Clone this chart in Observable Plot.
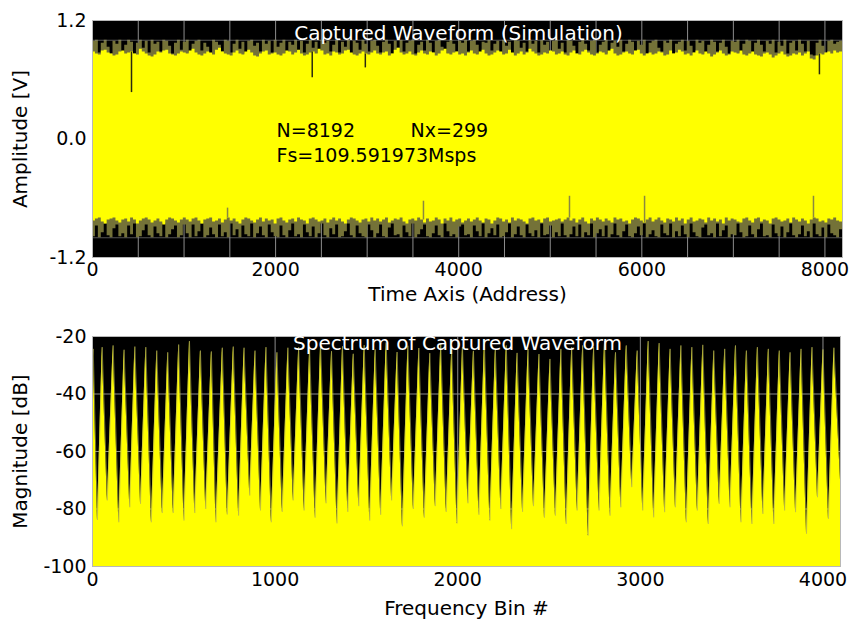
<!DOCTYPE html>
<html><head><meta charset="utf-8">
<script src="https://cdn.jsdelivr.net/npm/d3@7"></script>
<script src="https://cdn.jsdelivr.net/npm/@observablehq/plot@0.6"></script>
<style>body{margin:0;background:#fff} #chart{width:850px} svg{display:block}</style>
</head><body><div id="chart"></div><script>
// ---------- Top panel: captured waveform (envelope) ----------
const N = 8192;
const addrStep = 32;
const timeTicks = [0, 2000, 4000, 6000, 8000];
const timeGrid = [500,1000,1500,2000,2500,3000,3500,4000,4500,5000,5500,6000,6500,7000,7500,8000];
const ampTicks = [-1.2, 0, 1.2];
const clipLevels = [1.0, -1.0];

const upperInner = [
 .88,.86,.85,.89,.90,.87,.86,.84,.85,.88,.89,.86,.87,.88,.86,.85,.91,.88,.86,.84,.83,.85,.88,.87,.89,.90,.86,.85,.84,.86,.88,.87,
 .86,.89,.91,.87,.85,.84,.86,.88,.87,.85,.90,.92,.88,.86,.85,.84,.87,.89,.86,.85,.88,.90,.87,.84,.83,.86,.88,.89,.85,.86,.87,.85,
 .84,.86,.89,.88,.85,.87,.90,.86,.84,.85,.87,.88,.86,.91,.89,.85,.86,.84,.88,.87,.85,.86,.89,.90,.87,.85,.84,.86,.88,.86,.85,.87,
 .89,.86,.85,.87,.88,.84,.86,.90,.92,.87,.85,.86,.88,.85,.84,.87,.89,.86,.85,.88,.87,.84,.86,.89,.91,.86,.85,.87,.88,.85,.86,.84,
 .87,.89,.86,.85,.88,.90,.86,.84,.85,.87,.89,.88,.85,.86,.90,.87,.84,.86,.88,.85,.87,.91,.88,.86,.84,.85,.87,.86,.89,.88,.85,.86,
 .88,.85,.84,.87,.89,.86,.85,.88,.90,.87,.85,.84,.86,.88,.87,.85,.89,.91,.86,.84,.85,.87,.88,.86,.85,.89,.90,.86,.84,.86,.87,.85,
 .86,.88,.87,.84,.85,.89,.86,.87,.90,.88,.85,.86,.84,.87,.89,.86,.85,.88,.86,.83,.85,.87,.89,.86,.84,.85,.88,.87,.86,.89,.85,.84,
 .86,.88,.85,.84,.83,.86,.87,.85,.82,.84,.86,.88,.85,.83,.84,.86,.85,.87,.84,.86,.88,.81,.80,.84,.86,.85,.87,.88,.86,.89,.87,.88];
const upperOuter = [
 .99,1,.87,.97,1,.93,.86,.99,.96,1,.88,.95,1,.98,.86,.97,1,.92,.99,.87,1,.96,.98,.88,1,.99,.94,.86,.97,1,.90,.98,
 1,.87,.96,.99,1,.89,.97,.93,.86,1,.98,.95,.88,1,.99,.87,.96,1,.91,.98,.86,.99,1,.94,.97,.88,1,.96,.99,.87,1,.93,
 .97,1,.86,.98,.95,1,.89,.99,.87,.96,1,.92,.98,.86,1,.97,.99,.88,.95,1,.87,.98,.93,1,.86,.99,.97,.90,1,.96,.88,.99,
 1,.94,.87,.98,1,.96,.86,.99,.92,1,.88,.97,.99,1,.86,.95,.98,.89,1,.97,.87,.99,1,.93,.86,.98,1,.96,.88,.99,.97,1,
 .88,.99,1,.95,.86,.98,.97,1,.89,.96,.99,.87,1,.94,.98,.86,1,.99,.92,.97,.88,1,.96,.99,.87,1,.95,.98,.86,.99,1,.91,
 .97,.87,1,.99,.94,.86,.98,1,.96,.89,.99,1,.87,.95,.98,1,.86,.97,.99,.93,1,.88,.96,1,.98,.87,.99,.95,1,.86,.97,.99,
 1,.92,.88,.99,.97,1,.86,.96,.98,1,.89,.99,.94,.87,1,.97,.99,.86,.95,1,.98,.88,.97,1,.93,.86,.99,.98,1,.87,.96,1,
 .99,.86,.97,1,.95,.88,.99,.96,1,.87,.98,.94,1,.86,.97,.99,.89,1,.96,.88,.99,.85,.84,.97,1,.94,.87,.99,1,.96,.98,.99];
const lowerInner = [
 -.83,-.81,-.80,-.84,-.86,-.82,-.81,-.80,-.83,-.85,-.82,-.81,-.84,-.80,-.82,-.86,-.83,-.81,-.80,-.82,-.85,-.83,-.81,-.84,-.87,-.82,-.80,-.81,-.83,-.85,-.82,-.80,
 -.82,-.84,-.81,-.80,-.83,-.86,-.82,-.81,-.80,-.84,-.83,-.81,-.85,-.82,-.80,-.83,-.81,-.84,-.86,-.82,-.80,-.81,-.83,-.85,-.82,-.80,-.84,-.81,-.83,-.82,-.86,-.81,
 -.80,-.83,-.85,-.82,-.81,-.84,-.80,-.82,-.83,-.86,-.81,-.80,-.82,-.84,-.83,-.81,-.85,-.82,-.80,-.83,-.81,-.84,-.86,-.82,-.80,-.81,-.83,-.85,-.82,-.81,-.84,-.80,
 -.83,-.81,-.84,-.82,-.80,-.85,-.83,-.81,-.82,-.80,-.84,-.86,-.82,-.81,-.83,-.80,-.82,-.85,-.81,-.84,-.83,-.80,-.82,-.86,-.81,-.83,-.80,-.84,-.82,-.81,-.85,-.83,
 -.81,-.84,-.82,-.80,-.83,-.85,-.81,-.82,-.86,-.83,-.80,-.81,-.84,-.82,-.85,-.80,-.83,-.81,-.82,-.84,-.86,-.81,-.80,-.83,-.82,-.85,-.81,-.80,-.84,-.83,-.82,-.81,
 -.84,-.82,-.80,-.83,-.81,-.85,-.82,-.80,-.84,-.86,-.81,-.83,-.80,-.82,-.84,-.81,-.83,-.85,-.80,-.82,-.81,-.84,-.83,-.86,-.82,-.80,-.81,-.83,-.85,-.82,-.80,-.84,
 -.82,-.80,-.83,-.85,-.81,-.82,-.84,-.80,-.83,-.81,-.86,-.82,-.80,-.84,-.83,-.81,-.82,-.85,-.80,-.83,-.81,-.84,-.82,-.86,-.80,-.83,-.81,-.82,-.84,-.85,-.81,-.80,
 -.83,-.85,-.81,-.80,-.84,-.82,-.83,-.86,-.81,-.80,-.82,-.84,-.83,-.81,-.85,-.80,-.82,-.84,-.81,-.83,-.86,-.82,-.80,-.81,-.84,-.83,-.85,-.81,-.82,-.80,-.83,-.84];
const lowerOuter = [
 -.99,-.88,-1,-.95,-.86,-.98,-1,-.91,-.87,-.99,-.96,-1,-.88,-.97,-.86,-1,-.99,-.93,-.87,-.98,-1,-.89,-.96,-.99,-.86,-1,-.97,-.92,-.88,-1,-.98,-.87,
 -.96,-1,-.87,-.99,-.94,-.86,-1,-.98,-.90,-.97,-1,-.87,-.99,-.95,-1,-.86,-.98,-.92,-1,-.88,-.97,-.99,-.86,-1,-.96,-.89,-.98,-1,-.87,-.95,-.99,-1,
 -.88,-.98,-1,-.93,-.86,-.99,-.97,-1,-.87,-.95,-.99,-.89,-1,-.96,-.86,-.98,-1,-.91,-.97,-.87,-1,-.99,-.94,-.86,-.98,-1,-.88,-.96,-.99,-1,-.87,-.93,
 -1,-.96,-.87,-.99,-1,-.90,-.86,-.98,-.97,-1,-.88,-.95,-.99,-.86,-1,-.97,-.92,-.87,-.99,-1,-.96,-.88,-.98,-1,-.86,-.94,-.99,-.97,-1,-.89,-.87,-.98,
 -.97,-1,-.88,-.94,-.99,-.86,-1,-.96,-.91,-.98,-.87,-1,-.99,-.95,-.86,-1,-.97,-.89,-.98,-1,-.87,-.96,-.99,-.93,-1,-.86,-.98,-.97,-.88,-1,-.95,-.99,
 -.86,-.98,-1,-.97,-.89,-.99,-.87,-1,-.95,-.98,-.86,-1,-.96,-.92,-.99,-.88,-1,-.97,-.86,-.98,-1,-.94,-.87,-.99,-1,-.96,-.89,-.98,-.86,-1,-.97,-.93,
 -.99,-1,-.87,-.96,-.98,-.86,-1,-.94,-.99,-.88,-.97,-1,-.86,-.95,-.99,-1,-.90,-.87,-.98,-.96,-1,-.86,-.99,-.93,-.88,-1,-.97,-.98,-.86,-.95,-1,-.99,
 -.88,-.97,-1,-.92,-.86,-.99,-.98,-1,-.87,-.96,-.99,-.89,-1,-.95,-.86,-.98,-1,-.97,-.88,-.99,-.94,-1,-.86,-.97,-.99,-.90,-1,-.87,-.96,-.98,-1,-.92];
// isolated deep excursions
const topDipAddr = [426, 2400, 2980, 7940];
const topDipLevel = [0.47, 0.62, 0.72, 0.65];
const botPeakAddr = [1475, 3615, 5210, 6030, 7875];
const botPeakLevel = [-0.70, -0.63, -0.58, -0.58, -0.58];

const topTitle = "Captured Waveform (Simulation)";
const infoN = "N=8192";
const infoNx = "Nx=299";
const infoFs = "Fs=109.591973Msps";
const timeLabel = "Time Axis (Address)";
const ampLabel = "Amplitude [V]";

// ---------- Bottom panel: spectrum (peaks and valleys) ----------
const NB = 4096;
const binTicks = [0, 1000, 2000, 3000, 4000];
const binGrid = [1000, 2000, 3000, 4000];
const dbTicks = [-20, -40, -60, -80, -100];
const dbGrid = [-40, -60, -80];
const specStart = {bin: 0, db: -27};
const specEnd = {bin: 4096, db: -70};
const peakBins = [4,53,113,173,232,292,352,412,472,531,591,651,711,771,830,890,950,1010,1070,1129,
 1189,1249,1309,1369,1428,1488,1548,1608,1668,1727,1787,1847,1907,1967,2026,2086,2146,2206,2266,2325,
 2385,2445,2505,2565,2624,2684,2744,2804,2864,2923,2983,3043,3103,3163,3222,3282,3342,3402,3462,3521,
 3581,3641,3701,3761,3820,3880,3940,4000,4060];
const peakDb = [-24.3,-23.7,-23.1,-24.6,-23.5,-23.7,-24.9,-25.5,-22.8,-21.6,
 -24.9,-25.2,-23.9,-23.5,-23.9,-24.9,-23.7,-25.5,-23.9,-23.7,
 -24.2,-22.6,-25.1,-23.4,-26.0,-23.0,-24.5,-22.1,-25.4,-23.2,
 -24.0,-25.8,-22.5,-24.1,-23.6,-25.0,-22.3,-24.6,-23.1,-25.7,
 -24.4,-26.1,-27.8,-24.3,-23.7,-23.1,-23.7,-21.6,-25.5,-23.1,
 -24.9,-21.6,-22.3,-24.3,-23.1,-23.7,-22.9,-24.9,-24.3,-23.1,
 -24.9,-23.7,-24.3,-24.9,-25.5,-24.3,-23.7,-24.5,-23.9];
const valleyBins = [27,81,144,204,263,322,382,442,501,560,620,676,738,800,861,920,979,1039,1099,
 1159,1219,1279,1339,1398,1458,1518,1578,1638,1697,1757,1817,1877,1937,1996,2056,2116,2176,2236,2295,2355,2415,2475,
 2535,2594,2654,2714,2774,2834,2893,2953,3013,3073,3133,3192,3252,3312,3372,3432,3491,3551,3611,3671,3731,3790,3850,3910,3970,4030];
const valleyDb = [-83.8,-77.0,-84.6,-79.4,-78.2,-84.6,-81.4,-81.4,-84.0,-81.4,-80.0,-84.6,-81.9,-82.3,-75.3,-80.5,-84.6,-81.0,-77.0,
 -80.5,-83.0,-78.0,-85.0,-81.0,-79.0,-84.0,-82.0,-77.0,-86.0,-80.0,-83.0,-79.0,-81.0,-85.0,-78.0,-82.0,-84.0,-80.0,-87.0,-81.0,-79.0,-83.0,
 -82.3,-85.2,-80.5,-89.2,-80.5,-82.3,-79.4,-72.4,-80.5,-82.9,-81.1,-79.4,-84.6,-80.5,-85.2,-78.2,-79.4,-84.6,-85.2,-81.7,-85.2,-80.5,-81.1,-88.6,-75.9,-83.4];
const bottomTitle = "Spectrum of Captured Waveform";
const binLabel = "Frequency Bin #";
const dbLabel = "Magnitude [dB]";

// ---------- tables ----------
function envRows(lo, hi) {
  const rows = lo.map((l, i) => ({x: i * addrStep, lo: l, hi: hi[i]}));
  rows.push({x: N, lo: lo[lo.length - 1], hi: hi[hi.length - 1]});
  return rows;
}
const outerRows = envRows(lowerOuter, upperOuter);
const innerRows = envRows(lowerInner, upperInner);
const dipRows = topDipAddr.map((a, i) => ({x: a, y1: topDipLevel[i], y2: upperInner[Math.floor(a / addrStep)]}));
const bumpRows = botPeakAddr.map((a, i) => ({x: a, y1: lowerInner[Math.floor(a / addrStep)], y2: botPeakLevel[i]}));

const spec = [specStart];
peakBins.forEach((b, i) => {
  spec.push({bin: b, db: peakDb[i]});
  if (i < valleyBins.length) spec.push({bin: valleyBins[i], db: valleyDb[i]});
});
spec.push(specEnd);

const YEL = "#ffff00", OLIVE = "#747238", GRID = "#8c8c8c";
const FONT = "'DejaVu Sans', sans-serif";
const baseStyle = {fontFamily: FONT, fontSize: "19px", background: "white", color: "black", overflow: "visible"};

const topPlot = Plot.plot({
  width: 850, height: 310,
  marginTop: 20, marginBottom: 53, marginLeft: 92, marginRight: 8,
  style: baseStyle,
  x: {domain: [0, N]},
  y: {domain: [-1.2, 1.2]},
  marks: [
    Plot.frame({fill: "black"}),
    Plot.ruleX(timeGrid, {stroke: GRID}),
    Plot.areaY(outerRows, {x: "x", y1: "lo", y2: "hi", curve: "step-after", fill: OLIVE}),
    Plot.areaY(innerRows, {x: "x", y1: "lo", y2: "hi", curve: "step-after", fill: YEL}),
    Plot.ruleX(dipRows, {x: "x", y1: "y1", y2: "y2", stroke: "#2a2a10", strokeWidth: 1.5}),
    Plot.ruleX(bumpRows, {x: "x", y1: "y1", y2: "y2", stroke: "#8a8840", strokeWidth: 1.5}),
    Plot.ruleY(clipLevels, {stroke: GRID, strokeOpacity: 0.6}),
    Plot.frame({stroke: "#b8b8b8"}),
    Plot.text([topTitle], {text: d => d, frameAnchor: "top", lineAnchor: "middle", dx: -9, dy: 13, fill: "white", fontSize: 20}),
    Plot.text([infoN], {text: d => d, frameAnchor: "top-left", lineAnchor: "middle", textAnchor: "start", dx: 184, dy: 110, fill: "black", fontSize: 19}),
    Plot.text([infoNx], {text: d => d, frameAnchor: "top-left", lineAnchor: "middle", textAnchor: "start", dx: 318, dy: 110, fill: "black", fontSize: 19}),
    Plot.text([infoFs], {text: d => d, frameAnchor: "top-left", lineAnchor: "middle", textAnchor: "start", dx: 184, dy: 135, fill: "black", fontSize: 19}),
    Plot.axisX(timeTicks, {tickSize: 0, tickPadding: 5, tickFormat: d => String(d), label: null, fontSize: 19}),
    Plot.axisY(ampTicks, {tickSize: 0, tickPadding: 6, tickFormat: d => d.toFixed(1), label: null, fontSize: 19}),
    Plot.text([timeLabel], {text: d => d, frameAnchor: "bottom", lineAnchor: "middle", dy: 37, fill: "black", fontSize: 20}),
    Plot.text([ampLabel], {text: d => d, frameAnchor: "left", textAnchor: "middle", lineAnchor: "middle", rotate: -90, dx: -72, fill: "black", fontSize: 20})
  ]
});

const botPlot = Plot.plot({
  width: 850, height: 317,
  marginTop: 26, marginBottom: 61, marginLeft: 92, marginRight: 10,
  style: baseStyle,
  x: {domain: [0, NB]},
  y: {domain: [-100, -20]},
  marks: [
    Plot.frame({fill: "black"}),
    Plot.ruleX(binGrid, {stroke: GRID}),
    Plot.ruleY(dbGrid, {stroke: GRID}),
    Plot.areaY(spec, {x: "bin", y1: -100, y2: "db", fill: YEL}),
    Plot.lineY(spec, {x: "bin", y: "db", stroke: "#b8b650", strokeWidth: 0.6}),
    Plot.frame({stroke: "#b8b8b8"}),
    Plot.text([bottomTitle], {text: d => d, frameAnchor: "top", lineAnchor: "middle", dx: -9, dy: 7, fill: "white", fontSize: 20}),
    Plot.axisX(binTicks, {tickSize: 0, tickPadding: 6, tickFormat: d => String(d), label: null, fontSize: 19}),
    Plot.axisY(dbTicks, {tickSize: 0, tickPadding: 6, tickFormat: d => String(d), label: null, fontSize: 19}),
    Plot.text([binLabel], {text: d => d, frameAnchor: "bottom", lineAnchor: "middle", dy: 42, fill: "black", fontSize: 20}),
    Plot.text([dbLabel], {text: d => d, frameAnchor: "left", textAnchor: "middle", lineAnchor: "middle", rotate: -90, dx: -72, fill: "black", fontSize: 20})
  ]
});

const chart = document.getElementById("chart");
chart.appendChild(topPlot);
chart.appendChild(botPlot);
</script></body></html>
